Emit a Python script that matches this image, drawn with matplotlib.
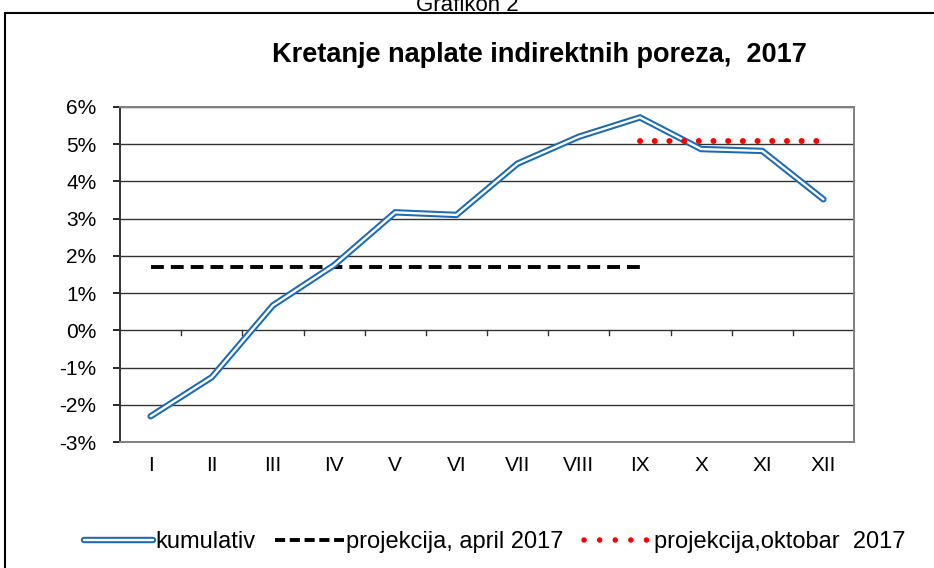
import matplotlib
matplotlib.use("Agg")
import matplotlib.pyplot as plt
import matplotlib.patheffects as pe
from matplotlib.lines import Line2D
from matplotlib.patches import Rectangle

months = ["I", "II", "III", "IV", "V", "VI", "VII", "VIII", "IX", "X", "XI", "XII"]
kumulativ = [-2.31, -1.26, 0.67, 1.75, 3.17, 3.10, 4.48, 5.20, 5.72, 4.87, 4.82, 3.52]
proj_april = [1.7] * 9          # months I .. IX
proj_oktobar = [5.1] * 4        # months IX .. XII
yticks = [-3, -2, -1, 0, 1, 2, 3, 4, 5, 6]
ytick_labels = [f"{v}%" for v in yticks]

plt.rcParams['font.family'] = ['Liberation Sans', 'DejaVu Sans']

BLUE = '#1a6ab5'
W, H = 934, 568
fig = plt.figure(figsize=(W / 100, H / 100), dpi=100)
fig.patch.set_facecolor('white')

# outer frame (cut off at right/bottom)
fig.patches.append(Rectangle((5 / W, -0.05), 1.2, 1 - 13 / H + 0.05, transform=fig.transFigure,
                             fill=False, edgecolor='black', linewidth=1.5, zorder=0))
fig.text(0.5, 1 - 11 / H, "Grafikon 2", ha='center', va='baseline', fontsize=16)

ax = fig.add_axes([120 / W, 1 - 442 / H, (854 - 120) / W, (442 - 107) / H])
x = list(range(len(months)))
ax.set_xlim(-0.5, len(months) - 0.5)
ax.set_ylim(-3, 6)

for v in yticks:
    ax.axhline(v, color='#333333', lw=1.0, zorder=1)
# small category tick marks on the zero line
for b in [i + 0.5 for i in range(len(months) - 1)]:
    ax.plot([b, b], [0, -0.12], color='#333333', lw=1.0, zorder=1)

dash = (0, (3.3, 1.8))
ax.plot(x[:len(proj_april)], proj_april, color='black', lw=2.8, linestyle=dash, zorder=3)

double = [pe.Stroke(linewidth=4.6, foreground=BLUE), pe.Normal()]
ax.plot(x, kumulativ, color='white', lw=1.7, solid_joinstyle='miter', solid_capstyle='round',
        path_effects=double, zorder=4)

dots = (0, (0.01, 2.45))
ax.plot(x[len(months) - len(proj_oktobar):], proj_oktobar, color='#ff0000', lw=4.3,
        linestyle=dots, dash_capstyle='round', zorder=5)

ax.set_yticks(yticks)
ax.set_yticklabels(ytick_labels, fontsize=15)
ax.set_xticks(x)
ax.set_xticklabels(months, fontsize=15)
ax.tick_params(axis='y', direction='out', length=5, width=1.2, pad=12, colors='black')
ax.tick_params(axis='x', length=0, pad=10)
for s in ['top', 'right', 'bottom']:
    ax.spines[s].set_color('#808080')
    ax.spines[s].set_linewidth(1.4)
ax.spines['left'].set_color('#333333')
ax.spines['left'].set_linewidth(1.4)

fig.text(539 / W, 1 - 62 / H, "Kretanje naplate indirektnih poreza,  2017", ha='center',
         va='baseline', fontsize=19.5, fontweight='bold')

h1 = Line2D([], [], color='white', lw=1.7, solid_capstyle='round',
            path_effects=[pe.Stroke(linewidth=4.6, foreground=BLUE, capstyle='round'), pe.Normal()])
h2 = Line2D([], [], color='black', lw=2.8, linestyle=(0, (2.6, 1.2)))
h3 = Line2D([], [], color='#ff0000', lw=4.0, linestyle=(0, (0.01, 2.8)), dash_capstyle='round')
fig.legend([h1, h2, h3], ["kumulativ", "projekcija, april 2017", "projekcija,oktobar  2017"],
           loc='center', bbox_to_anchor=(495 / W, 1 - 542 / H), ncol=3, frameon=False,
           handlelength=2.9, handletextpad=0.1, columnspacing=0.85, borderpad=0,
           prop={'size': 17})

fig.savefig("out.png", dpi=100)
